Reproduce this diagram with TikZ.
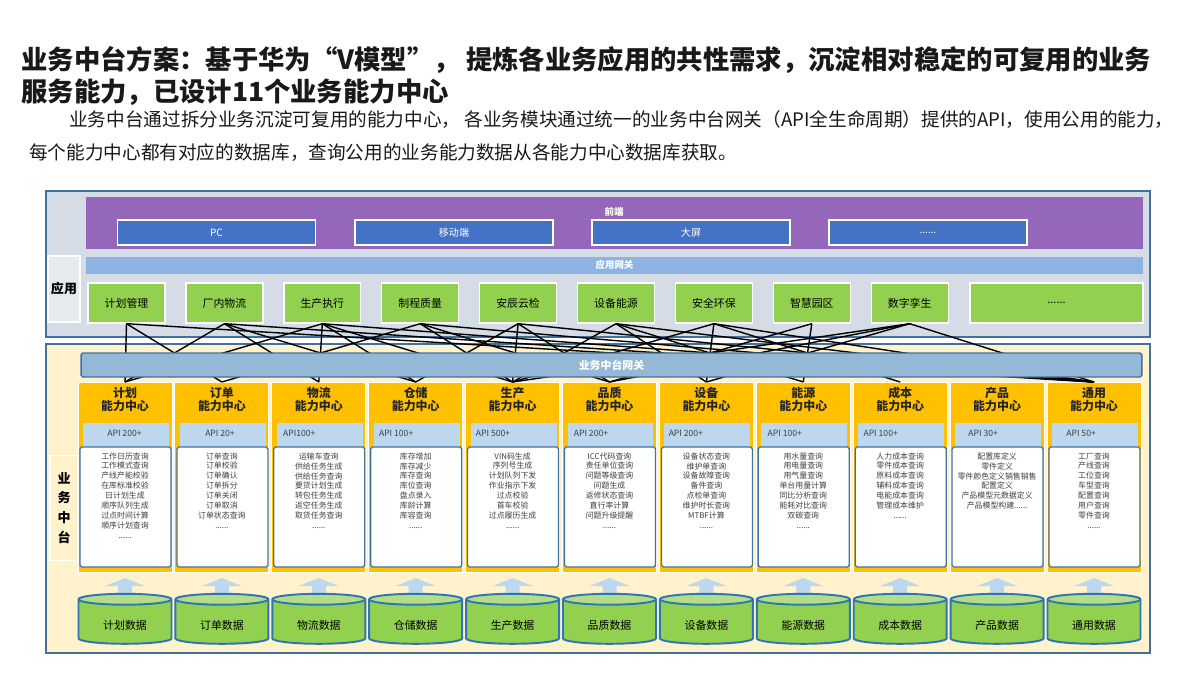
\documentclass[tikz,border=0pt]{standalone}
\usepackage{fontspec}
\setmainfont{Noto Sans CJK SC}
\usetikzlibrary{shapes.geometric}

\definecolor{frameblue}{HTML}{41719C}
\definecolor{appgray}{HTML}{D6DCE5}
\definecolor{frontpurple}{HTML}{9467BA}
\definecolor{feblue}{HTML}{4472C4}
\definecolor{gwblue}{HTML}{8DB3E2}
\definecolor{bizgw}{HTML}{95B8D6}
\definecolor{appgreen}{HTML}{92D050}
\definecolor{lightgreen}{HTML}{B4DE86}
\definecolor{bizyellow}{HTML}{FFF2CC}
\definecolor{capyellow}{HTML}{FFC000}
\definecolor{bandblue}{HTML}{BDD7EE}
\definecolor{dbblue}{HTML}{2E75B6}
\definecolor{txtgray}{HTML}{404040}

\tikzset{
  txt/.style={inner sep=0pt, anchor=west, text=black!90},
  febox/.style={draw=white, line width=0.8pt, fill=feblue, text=white, inner sep=0pt,
    minimum width=3.96cm, minimum height=0.5cm, font=\fontsize{5.7}{6.5}\selectfont},
  gwbar/.style={fill=gwblue, text=white, inner sep=0pt, font=\fontsize{5.4}{6}\selectfont\bfseries},
  sidebox/.style={draw=white, line width=0.8pt, inner sep=0pt, align=center,
    font=\fontsize{7.4}{11.3}\selectfont\bfseries},
  appbox/.style={draw=white, line width=0.8pt, fill=appgreen, inner sep=0pt,
    minimum width=1.54cm, minimum height=0.8cm, font=\fontsize{6.2}{7}\selectfont},
  capbox/.style={draw=white, line width=0.5pt, fill=capyellow, inner sep=0pt,
    minimum width=1.88cm, minimum height=3.8cm},
  capname/.style={inner sep=0pt, align=center, text=black!85, font=\fontsize{6.8}{7.4}\selectfont\bfseries},
  apiband/.style={fill=bandblue, inner sep=0pt, minimum width=1.72cm, minimum height=0.52cm},
  apitext/.style={inner sep=0pt, text=txtgray, font=\fontsize{4.9}{5.5}\selectfont},
  listbox/.style={draw=frameblue, line width=0.7pt, fill=white, rounded corners=1pt, inner sep=0pt,
    minimum width=1.82cm, minimum height=2.4cm},
  listtext/.style={inner sep=0pt, align=center, text=txtgray, font=\fontsize{4.5}{5.68}\selectfont},
  link/.style={black, line width=0.8pt},
  uparrow/.style={fill=bandblue},
  dbcyl/.style={cylinder, shape border rotate=90, aspect=0.25, draw=dbblue, line width=1.1pt,
    cylinder uses custom fill, cylinder body fill=appgreen, cylinder end fill=lightgreen,
    minimum width=1.86cm, minimum height=1.0cm, inner sep=0pt, text height=9pt,
    font=\fontsize{6.2}{7}\selectfont}
}

\begin{document}
\begin{tikzpicture}[x=0.02cm,y=-0.02cm]
\useasboundingbox (0,0) rectangle (1200,674);
\fill[white] (0,0) rectangle (1200,674);

% titre et texte
\node[txt, font=\fontsize{15}{17}\selectfont\bfseries] (t1) at (21,60)
  {业务中台方案：基于华为“V模型”， 提炼各业务应用的共性需求，沉淀相对稳定的可复用的业务};
\node[txt, font=\fontsize{15}{17}\selectfont\bfseries] (t2) at (21,92) {服务能力，已设计11个业务能力中心};
\node[txt, font=\fontsize{10.6}{12}\selectfont] (s1) at (69,120)
  {业务中台通过拆分业务沉淀可复用的能力中心， 各业务模块通过统一的业务中台网关（API全生命周期）提供的API，使用公用的能力，};
\node[txt, font=\fontsize{10.6}{12}\selectfont] (s2) at (29,153)
  {每个能力中心都有对应的数据库，查询公用的业务能力数据从各能力中心数据库获取。};

%应用
\draw[frameblue, line width=1pt, fill=appgray] (46,191) rectangle (1150,337);
\fill[frontpurple] (86,197) rectangle (1143,249);
\node[inner sep=0pt, text=white, font=\fontsize{5.4}{6}\selectfont\bfseries] (fe) at (614,212) {前端};
\foreach \x/\t [count=\k] in {216.5/PC,454/移动端,691/大屏,928/{......}}
  \node[febox] (f\k) at (\x,232.5) {\t};
\node[gwbar, minimum width=21.14cm, minimum height=0.34cm] (agw) at (614.5,265) {应用网关};
\node[sidebox, fill=appgray!60, minimum width=0.64cm, minimum height=1.32cm] (lapp) at (64,289) {应用};
\foreach \t [count=\i] in {计划管理,厂内物流,生产执行,制程质量,安辰云检,设备能源,安全环保,智慧园区,数字孪生}
  \node[appbox] (a\i) at ({126.5+97.9*(\i-1)},303) {\t};
\node[appbox, minimum width=3.46cm] (a10) at (1056.5,303) {......};

% 业务中台
\draw[frameblue, line width=1pt, fill=bizyellow] (46,344) rectangle (1150,653);
\node[sidebox, minimum width=0.56cm, minimum height=2.1cm] (lbiz) at (64,508) {业\\务\\中\\台};

\foreach \j/\nm/\api/\dx/\items in {
  1/计划/API 200+/-18/{工作日历查询\\工作模式查询\\产线产能校验\\在库标准校验\\日计划生成\\顺序队列生成\\过点时间计算\\顺序计划查询\\......},
  2/订单/API 20+/-17/{订单查询\\订单校验\\订单确认\\订单拆分\\订单关闭\\订单取消\\订单状态查询\\......},
  3/物流/API100+/-36/{运输车查询\\供给任务生成\\供给任务查询\\要货计划生成\\转包任务生成\\返空任务生成\\取货任务查询\\......},
  4/仓储/API 100+/-37/{库存增加\\库存减少\\库存查询\\库位查询\\盘点录入\\库龄计算\\库容查询\\......},
  5/生产/API 500+/-37/{VIN码生成\\序列号生成\\计划队列下发\\作业指示下发\\过点校验\\首车校验\\过点履历生成\\......},
  6/品质/API 200+/-36/{ICC代码查询\\责任单位查询\\问题等级查询\\问题生成\\返修状态查询\\直行率计算\\问题升级提醒\\......},
  7/设备/API 200+/-38/{设备状态查询\\维护单查询\\设备故障查询\\备件查询\\点检单查询\\维护时长查询\\MTBF计算\\......},
  8/能源/API 100+/-36/{用水量查询\\用电量查询\\用气量查询\\单台用量计算\\同比分析查询\\能耗对比查询\\双碳查询\\......},
  9/成本/API 100+/-37/{人力成本查询\\零件成本查询\\原料成本查询\\辅料成本查询\\电能成本查询\\管理成本维护\\......},
  10/产品/API 30+/-29/{配置库定义\\零件定义\\零件颜色定义销售销售\\配置定义\\产品模型元数据定义\\产品模型构建......},
  11/通用/API 50+/-28/{工厂查询\\产线查询\\工位查询\\车型查询\\配置查询\\用户查询\\零件查询\\......}}{
  \pgfmathsetmacro\cx{125+96.9*(\j-1)}
  \node[capbox, anchor=north] (c\j) at (\cx,382) {};
  \node[capname] (n\j) at (\cx,399.5) {\nm{}\\能力中心};
  \node[apiband] (b\j) at (\cx+1,436) {};
  \node[apitext, anchor=west] (p\j) at (\cx+\dx,433) {\api};
  \node[listbox] (l\j) at (\cx+0.5,507) {};
  \node[listtext, anchor=north] (i\j) at (\cx,452) {\items};
  \fill[uparrow] (\cx-20,586) -- (\cx,578) -- (\cx+20,586) -- (\cx+7,586)
    -- (\cx+7,594) -- (\cx-7,594) -- (\cx-7,586) -- cycle;
  \node[dbcyl] (d\j) at (\cx,622) {\nm{}数据};
}

% 调用关系
\foreach \i/\j in {1/1,1/2,1/11,2/1,2/3,2/4,2/11,3/1,3/3,3/4,3/5,3/11,
    4/2,4/5,4/6,4/11,5/4,5/5,5/6,5/11,6/5,6/7,6/8,6/11,
    7/5,7/7,7/9,7/11,8/6,8/8,9/5,9/6,9/7,9/11}
  \draw[link] (a\i.south) -- (c\j.north);

\node[draw=frameblue, line width=0.8pt, fill=bizgw, rounded corners=1pt, text=white, inner sep=0pt,
  minimum width=21.22cm, minimum height=0.48cm, font=\fontsize{6.2}{7}\selectfont\bfseries] (bgw) at (611.5,365) {业务中台网关};
\end{tikzpicture}
\end{document}
